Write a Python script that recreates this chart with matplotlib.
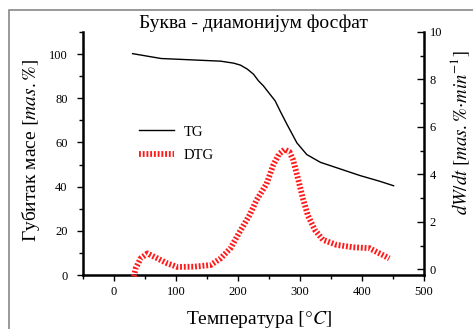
import numpy as np
import matplotlib.pyplot as plt
from matplotlib.patches import Rectangle

plt.rcParams['font.family'] = ['Liberation Serif', 'DejaVu Serif']
plt.rcParams['mathtext.fontset'] = 'stix'

# TG curve (mass loss, %)
tg_t = [30, 76, 124, 172, 193, 204, 215, 225, 233, 241, 260, 268, 279, 295, 311, 333, 365, 397, 429, 451]
tg_m = [100.2, 98, 97.4, 96.8, 95.9, 95, 93.2, 90.9, 87.9, 85.6, 78.8, 74.2, 68.2, 59.8, 54.5, 51, 48, 45, 42.4, 40.4]

# DTG curve (mass %/min)
dtg_t = [32, 35, 43, 54, 70, 86, 102, 129, 156, 172, 188, 201, 219, 230, 246, 257, 266, 275,
         283, 289, 297, 305, 313, 324, 337, 359, 385, 412, 423, 444]
dtg_v = [-0.3, 0.04, 0.46, 0.67, 0.46, 0.25, 0.1, 0.11, 0.18, 0.46, 0.89, 1.5, 2.3, 2.92, 3.6, 4.4, 4.85, 5.05,
         4.95, 4.6, 3.8, 2.95, 2.25, 1.66, 1.24, 1.03, 0.93, 0.89, 0.74, 0.46]

fig = plt.figure(figsize=(4.73, 3.29), dpi=100)
ax = fig.add_axes([83 / 473, 1 - 275 / 329, 341 / 473, 243 / 329])
ax2 = ax.twinx()

l1, = ax.plot(tg_t, tg_m, color='black', lw=1.0, label='TG')
l2, = ax2.plot(dtg_t, dtg_v, color='#ff1a1a', lw=4.2, linestyle=(0, (0.32, 0.32)),
               label='DTG', clip_on=False)

ax.set_xlim(-50, 500)
ax.set_ylim(0, 110)
ax2.set_ylim(-0.24, 10)
ax.set_xticks([0, 100, 200, 300, 400, 500])
ax.set_xticks(np.arange(-50, 501, 50), minor=True)
ax.set_yticks([0, 20, 40, 60, 80, 100])
ax.set_yticks(np.arange(0, 111, 10), minor=True)
ax2.set_yticks([0, 2, 4, 6, 8, 10])
ax2.set_yticks(np.arange(0, 11, 1), minor=True)

for a in (ax, ax2):
    a.spines['top'].set_visible(False)
    for s in ('left', 'right', 'bottom'):
        a.spines[s].set_linewidth(1.8)
ax.spines['right'].set_visible(False)
ax2.spines['left'].set_visible(False)
ax2.spines['bottom'].set_visible(False)

ax.tick_params(axis='both', which='major', direction='out', length=4, width=1, labelsize=9, pad=7)
ax.tick_params(axis='x', which='major', pad=4)
ax.tick_params(axis='both', which='minor', direction='out', length=3, width=1)
ax2.tick_params(axis='y', which='major', direction='in', length=5, width=1, labelsize=9, pad=4)
ax2.tick_params(axis='y', which='minor', direction='in', length=3, width=1)

ax.set_title('Буква - диамонијум фосфат', fontsize=14, pad=2)
fig.text(259 / 473, 1 - 319 / 329, r'Температура $[°C]$', fontsize=14, ha='center', va='center')
fig.text(31 / 473, 1 - 150 / 329, r'Губитак масе $[mas.\%]$', fontsize=14, rotation=90,
         ha='center', va='center')
fig.text(460 / 473, 1 - 133 / 329, r'$dW/dt\ [mas.\%{\cdot}min^{-1}]$', fontsize=13.5, rotation=90,
         ha='center', va='center')

ax2.legend([l1, l2], ['TG', 'DTG'], frameon=False, fontsize=10.5, loc='upper left',
           bbox_to_anchor=(0.125, 0.67), handlelength=2.4, labelspacing=0.7, handletextpad=0.7)

fig.patches.append(Rectangle((9 / 473, -0.1), 1.2, (329 - 10) / 329 + 0.1, transform=fig.transFigure,
                             fill=False, edgecolor='#888888', lw=1.2))

fig.savefig('out.png', dpi=100)
print('done')
